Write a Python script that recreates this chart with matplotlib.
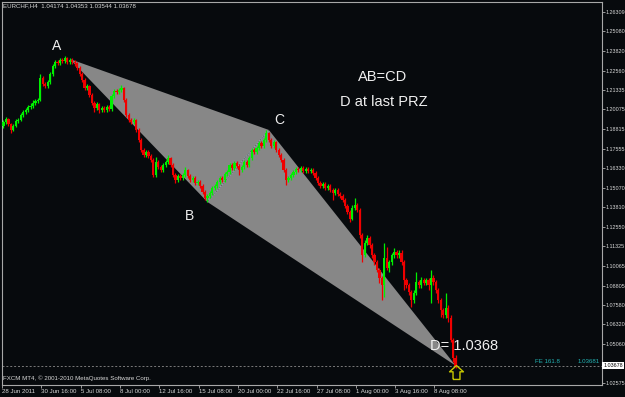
import matplotlib
matplotlib.use("Agg")
import matplotlib.pyplot as plt
from matplotlib.path import Path
from matplotlib.transforms import blended_transform_factory
import numpy as np

# ---------------- data (EURCHF H4) ----------------
opens = [
    1.1901, 1.1927, 1.1946, 1.1914, 1.1876, 1.1901, 1.1933, 1.1940, 1.1972, 1.1991,
    1.2004, 1.2023, 1.2029, 1.2048, 1.2061, 1.2068, 1.2209, 1.2170, 1.2157, 1.2183,
    1.2234, 1.2285, 1.2311, 1.2305, 1.2324, 1.2317, 1.2337, 1.2311, 1.2324, 1.2311,
    1.2305, 1.2273, 1.2234, 1.2196, 1.2145, 1.2157, 1.2100, 1.2048, 1.2016, 1.2042,
    1.2004, 1.2016, 1.2004, 1.2023, 1.2010, 1.2093, 1.2125, 1.2119, 1.2132, 1.2145,
    1.2068, 1.1972, 1.1940, 1.1927, 1.1940, 1.1876, 1.1812, 1.1748, 1.1716, 1.1735,
    1.1709, 1.1684, 1.1588, 1.1671, 1.1639, 1.1620, 1.1652, 1.1671, 1.1696, 1.1652,
    1.1588, 1.1556, 1.1581, 1.1568, 1.1588, 1.1620, 1.1581, 1.1556, 1.1568, 1.1536,
    1.1543, 1.1517, 1.1479, 1.1440, 1.1453, 1.1472, 1.1504, 1.1517, 1.1543, 1.1568,
    1.1556, 1.1594, 1.1607, 1.1652, 1.1632, 1.1664, 1.1645, 1.1620, 1.1639, 1.1671,
    1.1652, 1.1696, 1.1748, 1.1735, 1.1760, 1.1792, 1.1773, 1.1812, 1.1856, 1.1812,
    1.1773, 1.1799, 1.1748, 1.1716, 1.1684, 1.1620, 1.1556, 1.1568, 1.1588, 1.1607,
    1.1626, 1.1620, 1.1632, 1.1613, 1.1626, 1.1613, 1.1620, 1.1600, 1.1568, 1.1536,
    1.1517, 1.1530, 1.1504, 1.1517, 1.1492, 1.1472, 1.1492, 1.1466, 1.1453, 1.1428,
    1.1389, 1.1351, 1.1306, 1.1376, 1.1396, 1.1364, 1.1204, 1.1076, 1.1152, 1.1184,
    1.1140, 1.1076, 1.1031, 1.0980, 1.0928, 1.0884, 1.1056, 1.0992, 1.1031, 1.1076,
    1.1095, 1.1076, 1.1088, 1.1031, 1.0916, 1.0884, 1.0839, 1.0788, 1.0832, 1.0903,
    1.0884, 1.0916, 1.0896, 1.0916, 1.0884, 1.0928, 1.0903, 1.0852, 1.0788, 1.0724,
    1.0692, 1.0736, 1.0672, 1.0532, 1.04174,
]
highs = [
    1.1940, 1.1959, 1.1952, 1.1920, 1.1914, 1.1946, 1.1952, 1.1984, 1.2004, 1.2016,
    1.2036, 1.2048, 1.2068, 1.2074, 1.2080, 1.2234, 1.2221, 1.2183, 1.2196, 1.2247,
    1.2298, 1.2324, 1.2324, 1.2337, 1.2337, 1.2349, 1.2343, 1.2337, 1.2337, 1.2324,
    1.2311, 1.2285, 1.2247, 1.2209, 1.2170, 1.2164, 1.2113, 1.2061, 1.2055, 1.2048,
    1.2029, 1.2029, 1.2036, 1.2036, 1.2106, 1.2138, 1.2138, 1.2145, 1.2164, 1.2151,
    1.2080, 1.1984, 1.1952, 1.1952, 1.1946, 1.1888, 1.1824, 1.1760, 1.1748, 1.1748,
    1.1722, 1.1696, 1.1703, 1.1684, 1.1652, 1.1664, 1.1684, 1.1716, 1.1703, 1.1664,
    1.1600, 1.1594, 1.1594, 1.1600, 1.1639, 1.1626, 1.1594, 1.1581, 1.1581, 1.1556,
    1.1556, 1.1530, 1.1492, 1.1466, 1.1485, 1.1517, 1.1530, 1.1556, 1.1581, 1.1581,
    1.1607, 1.1620, 1.1664, 1.1664, 1.1677, 1.1677, 1.1658, 1.1652, 1.1684, 1.1684,
    1.1709, 1.1760, 1.1760, 1.1773, 1.1805, 1.1805, 1.1824, 1.1876, 1.1863, 1.1824,
    1.1812, 1.1805, 1.1760, 1.1728, 1.1696, 1.1632, 1.1581, 1.1600, 1.1620, 1.1639,
    1.1639, 1.1645, 1.1645, 1.1639, 1.1639, 1.1632, 1.1632, 1.1613, 1.1581, 1.1549,
    1.1543, 1.1543, 1.1530, 1.1530, 1.1504, 1.1504, 1.1504, 1.1479, 1.1466, 1.1440,
    1.1402, 1.1364, 1.1396, 1.1440, 1.1408, 1.1376, 1.1216, 1.1172, 1.1204, 1.1197,
    1.1152, 1.1088, 1.1044, 1.0992, 1.0941, 1.1152, 1.1127, 1.1044, 1.1088, 1.1120,
    1.1108, 1.1108, 1.1108, 1.1044, 1.0928, 1.0896, 1.0852, 1.0852, 1.0967, 1.0916,
    1.0935, 1.0928, 1.0928, 1.0928, 1.0980, 1.0948, 1.0916, 1.0864, 1.0800, 1.0736,
    1.0832, 1.0756, 1.0692, 1.0545, 1.04353,
]
lows = [
    1.1888, 1.1914, 1.1901, 1.1856, 1.1869, 1.1895, 1.1920, 1.1933, 1.1959, 1.1978,
    1.1991, 1.2010, 1.2016, 1.2036, 1.2048, 1.2061, 1.2157, 1.2145, 1.2145, 1.2170,
    1.2221, 1.2273, 1.2292, 1.2292, 1.2305, 1.2305, 1.2298, 1.2298, 1.2298, 1.2285,
    1.2260, 1.2221, 1.2183, 1.2132, 1.2132, 1.2087, 1.2036, 1.1991, 1.2004, 1.1984,
    1.1991, 1.1991, 1.1991, 1.1997, 1.1997, 1.2080, 1.2106, 1.2106, 1.2119, 1.2055,
    1.1959, 1.1927, 1.1914, 1.1914, 1.1863, 1.1799, 1.1735, 1.1703, 1.1703, 1.1696,
    1.1671, 1.1575, 1.1575, 1.1626, 1.1607, 1.1607, 1.1639, 1.1658, 1.1639, 1.1575,
    1.1536, 1.1543, 1.1556, 1.1556, 1.1575, 1.1568, 1.1543, 1.1543, 1.1524, 1.1524,
    1.1504, 1.1466, 1.1428, 1.1415, 1.1440, 1.1460, 1.1492, 1.1504, 1.1530, 1.1543,
    1.1543, 1.1581, 1.1594, 1.1620, 1.1620, 1.1632, 1.1588, 1.1607, 1.1626, 1.1639,
    1.1639, 1.1684, 1.1722, 1.1722, 1.1748, 1.1760, 1.1760, 1.1799, 1.1799, 1.1760,
    1.1760, 1.1735, 1.1703, 1.1671, 1.1607, 1.1524, 1.1543, 1.1556, 1.1575, 1.1594,
    1.1607, 1.1607, 1.1600, 1.1600, 1.1600, 1.1600, 1.1588, 1.1556, 1.1524, 1.1504,
    1.1504, 1.1492, 1.1492, 1.1479, 1.1428, 1.1460, 1.1453, 1.1440, 1.1415, 1.1376,
    1.1338, 1.1287, 1.1300, 1.1364, 1.1351, 1.1184, 1.1031, 1.1063, 1.1140, 1.1120,
    1.1056, 1.1012, 1.0967, 1.0896, 1.0788, 1.0807, 1.0980, 1.0967, 1.1012, 1.1056,
    1.1056, 1.1056, 1.1012, 1.0852, 1.0864, 1.0820, 1.0743, 1.0768, 1.0820, 1.0864,
    1.0864, 1.0884, 1.0884, 1.0852, 1.0768, 1.0884, 1.0832, 1.0768, 1.0679, 1.0672,
    1.0672, 1.0647, 1.0519, 1.0391, 1.03544,
]
closes = [
    1.1927, 1.1946, 1.1914, 1.1876, 1.1901, 1.1933, 1.1940, 1.1972, 1.1991, 1.2004,
    1.2023, 1.2029, 1.2048, 1.2061, 1.2068, 1.2209, 1.2170, 1.2157, 1.2183, 1.2234,
    1.2285, 1.2311, 1.2305, 1.2324, 1.2317, 1.2337, 1.2311, 1.2324, 1.2311, 1.2305,
    1.2273, 1.2234, 1.2196, 1.2145, 1.2157, 1.2100, 1.2048, 1.2016, 1.2042, 1.2004,
    1.2016, 1.2004, 1.2023, 1.2010, 1.2093, 1.2125, 1.2119, 1.2132, 1.2145, 1.2068,
    1.1972, 1.1940, 1.1927, 1.1940, 1.1876, 1.1812, 1.1748, 1.1716, 1.1735, 1.1709,
    1.1684, 1.1588, 1.1671, 1.1639, 1.1620, 1.1652, 1.1671, 1.1696, 1.1652, 1.1588,
    1.1556, 1.1581, 1.1568, 1.1588, 1.1620, 1.1581, 1.1556, 1.1568, 1.1536, 1.1543,
    1.1517, 1.1479, 1.1440, 1.1453, 1.1472, 1.1504, 1.1517, 1.1543, 1.1568, 1.1556,
    1.1594, 1.1607, 1.1652, 1.1632, 1.1664, 1.1645, 1.1620, 1.1639, 1.1671, 1.1652,
    1.1696, 1.1748, 1.1735, 1.1760, 1.1792, 1.1773, 1.1812, 1.1856, 1.1812, 1.1773,
    1.1799, 1.1748, 1.1716, 1.1684, 1.1620, 1.1556, 1.1568, 1.1588, 1.1607, 1.1626,
    1.1620, 1.1632, 1.1613, 1.1626, 1.1613, 1.1620, 1.1600, 1.1568, 1.1536, 1.1517,
    1.1530, 1.1504, 1.1517, 1.1492, 1.1472, 1.1492, 1.1466, 1.1453, 1.1428, 1.1389,
    1.1351, 1.1306, 1.1376, 1.1396, 1.1364, 1.1204, 1.1076, 1.1152, 1.1184, 1.1140,
    1.1076, 1.1031, 1.0980, 1.0928, 1.0884, 1.1056, 1.0992, 1.1031, 1.1076, 1.1095,
    1.1076, 1.1088, 1.1031, 1.0916, 1.0884, 1.0839, 1.0788, 1.0832, 1.0903, 1.0884,
    1.0916, 1.0896, 1.0916, 1.0884, 1.0928, 1.0903, 1.0852, 1.0788, 1.0724, 1.0692,
    1.0736, 1.0672, 1.0532, 1.0417, 1.03678,
]

time_labels = ["28 Jun 2011", "30 Jun 16:00", "5 Jul 08:00", "8 Jul 00:00",
               "12 Jul 16:00", "15 Jul 08:00", "20 Jul 00:00", "22 Jul 16:00",
               "27 Jul 08:00", "1 Aug 00:00", "3 Aug 16:00", "8 Aug 08:00"]
time_label_bars = [0, 16, 32, 48, 64, 80, 96, 112, 128, 144, 160, 176]

price_ticks = [1.26309, 1.25080, 1.23820, 1.22560, 1.21335, 1.20075, 1.18815,
               1.17555, 1.16330, 1.15070, 1.13810, 1.12550, 1.11325, 1.10065,
               1.08805, 1.07580, 1.06320, 1.05060, 1.02575]

# harmonic pattern points A, B, C, D (bar index, price)
pattern_bars = [27, 83, 108, 184]
pattern_prices = [1.2330, 1.1415, 1.1876, 1.0368]

fe_level = 1.03681
last_price = 1.03678

# ---------------- figure ----------------
W, H = 625, 397
BG = "#070a0d"
FG = "#d8d8d8"
BULL = "#00f000"
BEAR = "#f00000"
FAM = ["Liberation Sans", "DejaVu Sans"]
small = dict(family=FAM, fontsize=4.4)

fig = plt.figure(figsize=(W / 100, H / 100), dpi=100, facecolor=BG)
ax = fig.add_axes([2 / W, 1 - 385 / H, 600 / W, 383 / H], facecolor=BG)

x = np.arange(len(closes))
o = np.array(opens); c = np.array(closes)
hi = np.array(highs); lo = np.array(lows)
up = c >= o
cols = np.where(up, BULL, BEAR)

# gray pattern triangles
pa = list(zip(pattern_bars, pattern_prices))
ax.fill([pa[0][0], pa[1][0], pa[2][0]], [pa[0][1], pa[1][1], pa[2][1]],
        color="#878787", lw=0, zorder=1)
ax.fill([pa[1][0], pa[2][0], pa[3][0]], [pa[1][1], pa[2][1], pa[3][1]],
        color="#878787", lw=0, zorder=1)
ax.plot([pa[1][0], pa[2][0]], [pa[1][1], pa[2][1]], color="#9fc8e0",
        lw=0.6, ls=(0, (1, 2)), zorder=2)

# candles
ax.vlines(x, lo, hi, colors=cols, linewidth=0.9, zorder=3)
body_h = np.maximum(np.abs(c - o), 0.0005)
ax.bar(x, body_h, bottom=np.minimum(o, c), width=0.9, color=cols,
       linewidth=0, zorder=3)

# FE level line
ax.axhline(fe_level, color="#7a7a7a", lw=0.7, ls=(0, (2, 2)), zorder=2)

# up arrow below last bar
arrow = Path([(-0.25, -0.5), (0.25, -0.5), (0.25, 0.05), (0.5, 0.05), (0.0, 0.5),
              (-0.5, 0.05), (-0.25, 0.05), (-0.25, -0.5)])
ax.plot([x[-1]], [lo[-1] - 0.0026], marker=arrow, ms=10, mfc="none",
        mec="#c8c800", mew=1.0, ls="none", zorder=4)

ax.set_xlim(-0.61, 243.6)
ax.set_ylim(1.02437, 1.26949)

for s in ax.spines.values():
    s.set_color("#a8a8a8")
    s.set_linewidth(0.8)

ax.yaxis.tick_right()
ax.set_yticks(price_ticks)
ax.set_yticklabels([f"{v:.5f}" for v in price_ticks])
ax.tick_params(axis="y", length=2.0, width=0.6, colors="#b0b0b0", pad=0.8,
               labelcolor=FG, labelsize=3.9)
ax.set_xticks(np.array(time_label_bars) - 0.6)
ax.set_xticklabels(time_labels)
ax.tick_params(axis="x", length=2.3, width=0.6, colors="#b0b0b0", pad=0.6,
               labelcolor=FG, labelsize=4.4)
for lab in ax.get_xticklabels() + ax.get_yticklabels():
    lab.set_family(FAM)
for lab in ax.get_xticklabels():
    lab.set_ha("left")

# current price box on right scale
tr = blended_transform_factory(ax.transAxes, ax.transData)
ax.text(1.002, last_price, f"{last_price:.5f}", transform=tr, ha="left",
        va="center", color="#000000", clip_on=False, family=FAM, fontsize=3.9,
        bbox=dict(boxstyle="square,pad=0.15", fc="#ffffff", ec="none"))

# FE label
ax.text(0.888, fe_level + 0.0012, "FE 161.8", transform=tr, ha="left",
        va="bottom", color="#22b4b4", **small)
ax.text(0.997, fe_level + 0.0012, "1.03681", transform=tr, ha="right",
        va="bottom", color="#22b4b4", **small)


def fxy(px, py):
    return px / W, 1 - py / H


big = dict(family=FAM, color="#f0f0f0")
fig.text(*fxy(3, 6), "EURCHF,H4  1.04174 1.04353 1.03544 1.03678",
         ha="left", va="center", color=FG, **small)
fig.text(*fxy(3, 378), "FXCM MT4, \u00a9 2001-2010 MetaQuotes Software Corp.",
         ha="left", va="center", color=FG, **small)
fig.text(*fxy(57, 46), "A", ha="center", va="center", fontsize=10, **big)
fig.text(*fxy(190, 216), "B", ha="center", va="center", fontsize=10, **big)
fig.text(*fxy(279, 120), "C", ha="center", va="center", fontsize=10, **big)
fig.text(*fxy(383, 77), "AB=CD", ha="center", va="center", fontsize=10.5, **big)
fig.text(*fxy(384, 102), "D at last PRZ", ha="center", va="center",
         fontsize=10.5, **big)
fig.text(*fxy(430, 346), "D= 1.0368", ha="left", va="center", fontsize=10.5,
         **big)

fig.savefig("out.png", dpi=100, facecolor=BG)
